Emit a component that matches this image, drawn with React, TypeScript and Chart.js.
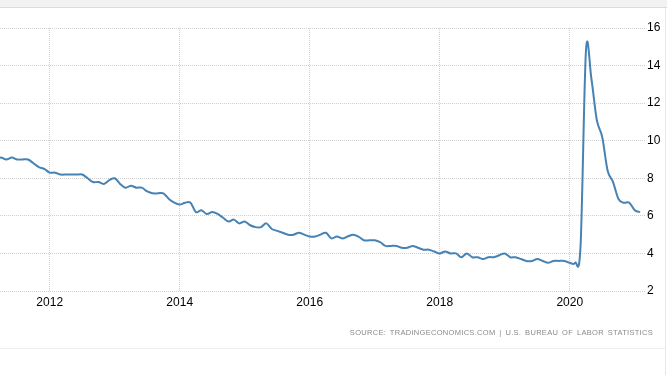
import React, { useEffect, useRef } from "react";
import { Chart, registerables } from "chart.js";

Chart.register(...registerables);

// US unemployment rate, monthly (%)
const rates2011 = [9.1, 9.0, 9.0, 9.1, 9.0, 9.1, 9.0, 9.0, 9.0, 8.8, 8.6, 8.5];
const rates2012 = [8.3, 8.3, 8.2, 8.2, 8.2, 8.2, 8.2, 8.0, 7.8, 7.8, 7.7, 7.9];
const rates2013 = [8.0, 7.7, 7.5, 7.6, 7.5, 7.5, 7.3, 7.2, 7.2, 7.2, 6.9, 6.7];
const rates2014 = [6.6, 6.7, 6.7, 6.2, 6.3, 6.1, 6.2, 6.1, 5.9, 5.7, 5.8, 5.6];
const rates2015 = [5.7, 5.5, 5.4, 5.4, 5.6, 5.3, 5.2, 5.1, 5.0, 5.0, 5.1, 5.0];
const rates2016 = [4.9, 4.9, 5.0, 5.1, 4.8, 4.9, 4.8, 4.9, 5.0, 4.9, 4.7, 4.7];
const rates2017 = [4.7, 4.6, 4.4, 4.4, 4.4, 4.3, 4.3, 4.4, 4.3, 4.2, 4.2, 4.1];
const rates2018 = [4.0, 4.1, 4.0, 4.0, 3.8, 4.0, 3.8, 3.8, 3.7, 3.8, 3.8, 3.9];
const rates2019 = [4.0, 3.8, 3.8, 3.7, 3.6, 3.6, 3.7, 3.6, 3.5, 3.6, 3.6, 3.6];
const rates2020 = [3.5, 3.5, 4.4, 14.8, 13.3, 11.1, 10.2, 8.4, 7.8, 6.9, 6.7, 6.7];
const rates2021 = [6.3, 6.2];

const years = [2011, 2012, 2013, 2014, 2015, 2016, 2017, 2018, 2019, 2020, 2021];
const yearlyRates = [
  rates2011, rates2012, rates2013, rates2014, rates2015, rates2016,
  rates2017, rates2018, rates2019, rates2020, rates2021,
];

const xTickYears = [2012, 2014, 2016, 2018, 2020];
const yTicks = [2, 4, 6, 8, 10, 12, 14, 16];

// visible date window (decimal years)
const xMin = 2011.2354;
const xMax = 2021.158;

const sourceText = "SOURCE: TRADINGECONOMICS.COM | U.S. BUREAU OF LABOR STATISTICS";

// Catmull-Rom style smoothing (like the original spline)
const splinePlugin = {
  id: "catmullSpline",
  beforeDatasetDraw(chart: any, args: any) {
    const meta = chart.getDatasetMeta(args.index);
    const line = meta.dataset;
    if (!line) return;
    if (typeof line.updateControlPoints === "function") {
      line.updateControlPoints(chart.chartArea, "x");
    }
    const pts = meta.data as any[];
    for (let i = 0; i < pts.length; i++) {
      const p = pts[i];
      const prev = pts[i - 1] || p;
      const next = pts[i + 1] || p;
      const dx = (next.x - prev.x) / 6;
      const dy = (next.y - prev.y) / 6;
      p.cp1x = p.x - dx;
      p.cp1y = p.y - dy;
      p.cp2x = p.x + dx;
      p.cp2y = p.y + dy;
    }
    line._path = undefined;
  },
};

export default function App() {
  const canvasRef = useRef<HTMLCanvasElement | null>(null);

  useEffect(() => {
    const points: { x: number; y: number }[] = [];
    years.forEach((yr, yi) => {
      yearlyRates[yi].forEach((v, m) => {
        points.push({ x: yr + m / 12, y: v });
      });
    });

    const tickFont = { family: "'Liberation Sans', Arial, sans-serif", size: 12 };

    const chart = new Chart(canvasRef.current as HTMLCanvasElement, {
      type: "line",
      data: {
        datasets: [
          {
            data: points,
            borderColor: "#4682b4",
            borderWidth: 2,
            pointRadius: 0,
            pointHoverRadius: 0,
            tension: 0.3,
            fill: false,
          },
        ],
      },
      options: {
        animation: false,
        responsive: false,
        devicePixelRatio: 1,
        events: [],
        layout: { padding: { top: 28, left: 0, right: 0, bottom: 0 } },
        plugins: {
          legend: { display: false },
          tooltip: { enabled: false },
          title: { display: false },
        },
        scales: {
          x: {
            type: "linear",
            min: xMin,
            max: xMax,
            afterBuildTicks: (scale: any) => {
              scale.ticks = xTickYears.map((v) => ({ value: v }));
            },
            afterFit: (scale: any) => {
              scale.height = 84;
            },
            ticks: {
              autoSkip: false,
              maxRotation: 0,
              padding: 4,
              color: "#000",
              font: tickFont,
              callback: (v: any) => String(v),
            },
            grid: { color: "#cfcfcf", drawTicks: false, lineWidth: 1 },
            border: { display: false, dash: [1, 1] },
          },
          y: {
            position: "right",
            min: 2,
            max: 16,
            afterBuildTicks: (scale: any) => {
              scale.ticks = yTicks.map((v) => ({ value: v }));
            },
            afterFit: (scale: any) => {
              scale.width = 22;
            },
            ticks: {
              padding: 2,
              color: "#000",
              font: tickFont,
              callback: (v: any) => String(v),
            },
            grid: { color: "#cfcfcf", drawTicks: false, lineWidth: 1 },
            border: { display: false, dash: [1, 1] },
          },
        },
      },
      plugins: [splinePlugin],
    });
    return () => chart.destroy();
  }, []);

  return (
    <div
      style={{
        position: "fixed",
        left: 0,
        top: 0,
        width: 667,
        height: 375,
        background: "#fff",
        overflow: "hidden",
      }}
    >
      <div
        style={{
          position: "absolute",
          left: 0,
          top: 0,
          width: 667,
          height: 7,
          background: "#f2f2f2",
          borderBottom: "1px solid #dcdcdc",
        }}
      />
      <div
        style={{
          position: "absolute",
          left: 665,
          top: 8,
          width: 1,
          height: 367,
          background: "#e8e8e8",
        }}
      />
      <div
        style={{
          position: "absolute",
          left: 0,
          top: 348,
          width: 665,
          height: 1,
          background: "#eeeeee",
        }}
      />
      <canvas
        ref={canvasRef}
        width={667}
        height={375}
        style={{ position: "absolute", left: 0, top: 0, width: 667, height: 375 }}
      />
      <div
        style={{
          position: "absolute",
          right: 14,
          top: 328,
          fontFamily: "'Liberation Sans', Arial, sans-serif",
          fontSize: 7.5,
          lineHeight: "10px",
          letterSpacing: "0.3px",
          wordSpacing: "1.5px",
          color: "#8a8a8a",
          whiteSpace: "nowrap",
          textAlign: "right",
        }}
      >
        {sourceText}
      </div>
    </div>
  );
}
